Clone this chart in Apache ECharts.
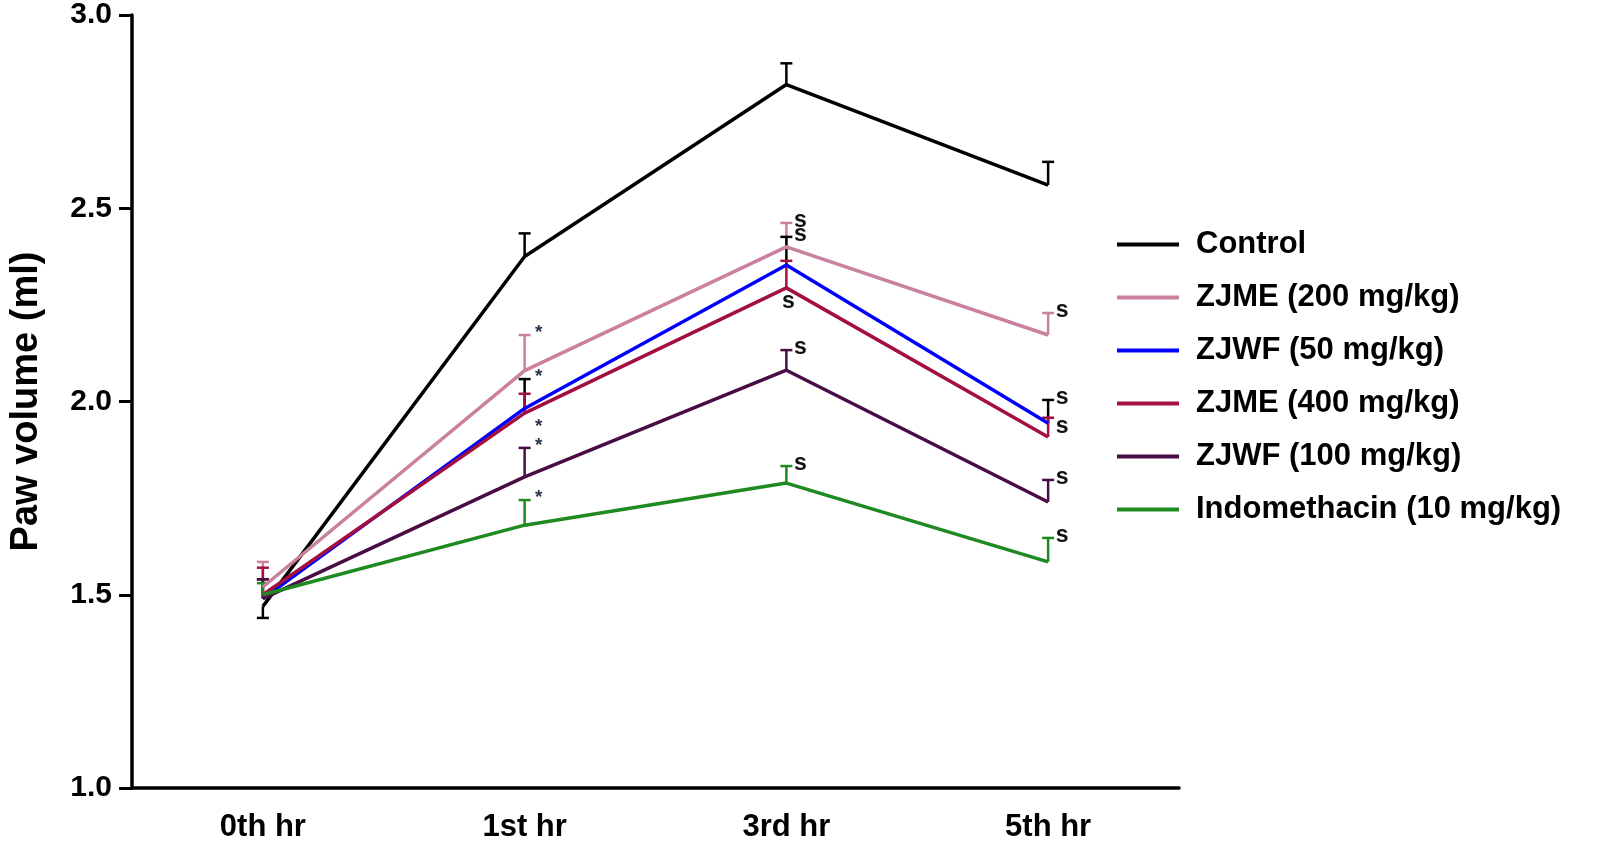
<!DOCTYPE html>
<html>
<head>
<meta charset="utf-8">
<script src="https://cdn.jsdelivr.net/npm/echarts@6/dist/echarts.min.js"></script>
<style>
  html, body { margin: 0; padding: 0; background: #fff; }
  #chart { width: 1600px; height: 847px; }
</style>
</head>
<body>
<div id="chart"></div>
<script>
// time points
const hours = ["0th hr", "1st hr", "3rd hr", "5th hr"];

// mean paw volume (ml) and upper error (SEM) per group
const control = [1.47, 2.375, 2.82, 2.56];
const controlErr = [-0.03, 0.06, 0.055, 0.06];
const controlMarks = ["", "", "", ""];

const zjme200 = [1.52, 2.08, 2.40, 2.172];
const zjme200Err = [0.065, 0.092, 0.062, 0.057];
const zjme200Marks = ["", "*", "s", "s"];

const zjwf50 = [1.49, 1.982, 2.353, 1.944];
const zjwf50Err = [0.05, 0.076, 0.073, 0.06];
const zjwf50Marks = ["", "*", "s", "s"];

const zjme400 = [1.50, 1.97, 2.294, 1.908];
const zjme400Err = [0.07, 0.05, 0.07, 0.05];
const zjme400Marks = ["", "*", "s", "s"];

const zjwf100 = [1.49, 1.805, 2.081, 1.740];
const zjwf100Err = [0.05, 0.075, 0.052, 0.057];
const zjwf100Marks = ["", "*", "s", "s"];

const indo = [1.50, 1.68, 1.789, 1.585];
const indoErr = [0.03, 0.065, 0.044, 0.062];
const indoMarks = ["", "*", "s", "s"];

const groups = [
  { name: "Control", values: control, err: controlErr, marks: controlMarks, color: "#000000", barColor: "#000000" },
  { name: "ZJME (200 mg/kg)", values: zjme200, err: zjme200Err, marks: zjme200Marks, color: "#c9819f", barColor: "#c9819f" },
  { name: "ZJWF (50 mg/kg)", values: zjwf50, err: zjwf50Err, marks: zjwf50Marks, color: "#0000ff", barColor: "#000000" },
  { name: "ZJME (400 mg/kg)", values: zjme400, err: zjme400Err, marks: zjme400Marks, color: "#a3103f", barColor: "#a3103f", below: true },
  { name: "ZJWF (100 mg/kg)", values: zjwf100, err: zjwf100Err, marks: zjwf100Marks, color: "#4a0c45", barColor: "#4a0c45" },
  { name: "Indomethacin (10 mg/kg)", values: indo, err: indoErr, marks: indoMarks, color: "#1f8a1f", barColor: "#1f8a1f" }
];

const FONT = "'Liberation Sans', Arial, sans-serif";

const chart = echarts.init(document.getElementById("chart"));

function errorBarSeries(g) {
  const data = g.values.map((v, i) => [i, v, g.err[i]]);
  return {
    type: "custom",
    name: g.name + " err",
    z: 3,
    silent: true,
    data: data,
    renderItem: function (params, api) {
      const i = api.value(0);
      const v = api.value(1);
      const e = api.value(2);
      const mark = g.marks[i];
      const p = api.coord([i, v]);
      const top = api.coord([i, v + e]);
      const children = [
        { type: "line", shape: { x1: p[0], y1: p[1], x2: top[0], y2: top[1] }, style: { stroke: g.barColor, lineWidth: 2.5 } },
        { type: "line", shape: { x1: top[0] - 6, y1: top[1], x2: top[0] + 6, y2: top[1] }, style: { stroke: g.barColor, lineWidth: 2.5 } }
      ];
      if (mark) {
        let tx = p[0] + 14;
        let ty = top[1] - 2;
        if (g.below && i < 3) {
          ty = p[1] + 14;
          if (i === 2) tx = p[0] + 2;
        } else if (g.below) {
          ty = p[1] - 10;
        }
        children.push({
          type: "text",
          style: {
            text: mark, x: tx, y: ty,
            align: "center", verticalAlign: "middle",
            font: (mark === "*" ? "bold 19px " : "bold 23px ") + FONT,
            fill: mark === "*" ? "#2a3550" : "#111"
          }
        });
      }
      return { type: "group", children: children };
    }
  };
}

const series = [];
groups.forEach(g => {
  series.push({
    name: g.name,
    type: "line",
    data: g.values,
    symbol: "none",
    z: 4,
    lineStyle: { color: g.color, width: 3.5 },
    itemStyle: { color: g.color }
  });
  series.push(errorBarSeries(g));
});

const option = {
  animation: false,
  backgroundColor: "#ffffff",
  textStyle: { fontFamily: FONT },
  grid: { left: 127, top: 15, width: 1052, height: 773 },
  legend: {
    data: groups.map(g => g.name),
    orient: "vertical",
    left: 1112,
    top: 224,
    itemWidth: 62,
    itemHeight: 4,
    itemGap: 22,
    icon: "rect",
    textStyle: { fontSize: 31, fontWeight: "bold", color: "#000", fontFamily: FONT, padding: [0, 0, 0, 12] }
  },
  xAxis: {
    type: "category",
    data: hours,
    boundaryGap: true,
    axisLine: { lineStyle: { color: "#000", width: 3.5 } },
    axisTick: { alignWithLabel: true, length: 11, lineStyle: { color: "#000", width: 3 } },
    axisLabel: { fontSize: 31, fontWeight: "bold", color: "#000", margin: 24, fontFamily: FONT },
    splitLine: { show: false }
  },
  yAxis: {
    type: "value",
    min: 1.0,
    max: 3.0,
    interval: 0.5,
    name: "Paw volume (ml)",
    nameLocation: "middle",
    nameGap: 86,
    nameTextStyle: { fontSize: 38, fontWeight: "bold", color: "#000", fontFamily: FONT },
    axisLine: { show: true, lineStyle: { color: "#000", width: 3.5 } },
    axisTick: { show: true, length: 13, lineStyle: { color: "#000", width: 3 } },
    axisLabel: { fontSize: 30, fontWeight: "bold", color: "#000", margin: 20, fontFamily: FONT, formatter: v => v.toFixed(1) },
    splitLine: { show: false }
  },
  series: series
};

chart.setOption(option);
</script>
</body>
</html>
